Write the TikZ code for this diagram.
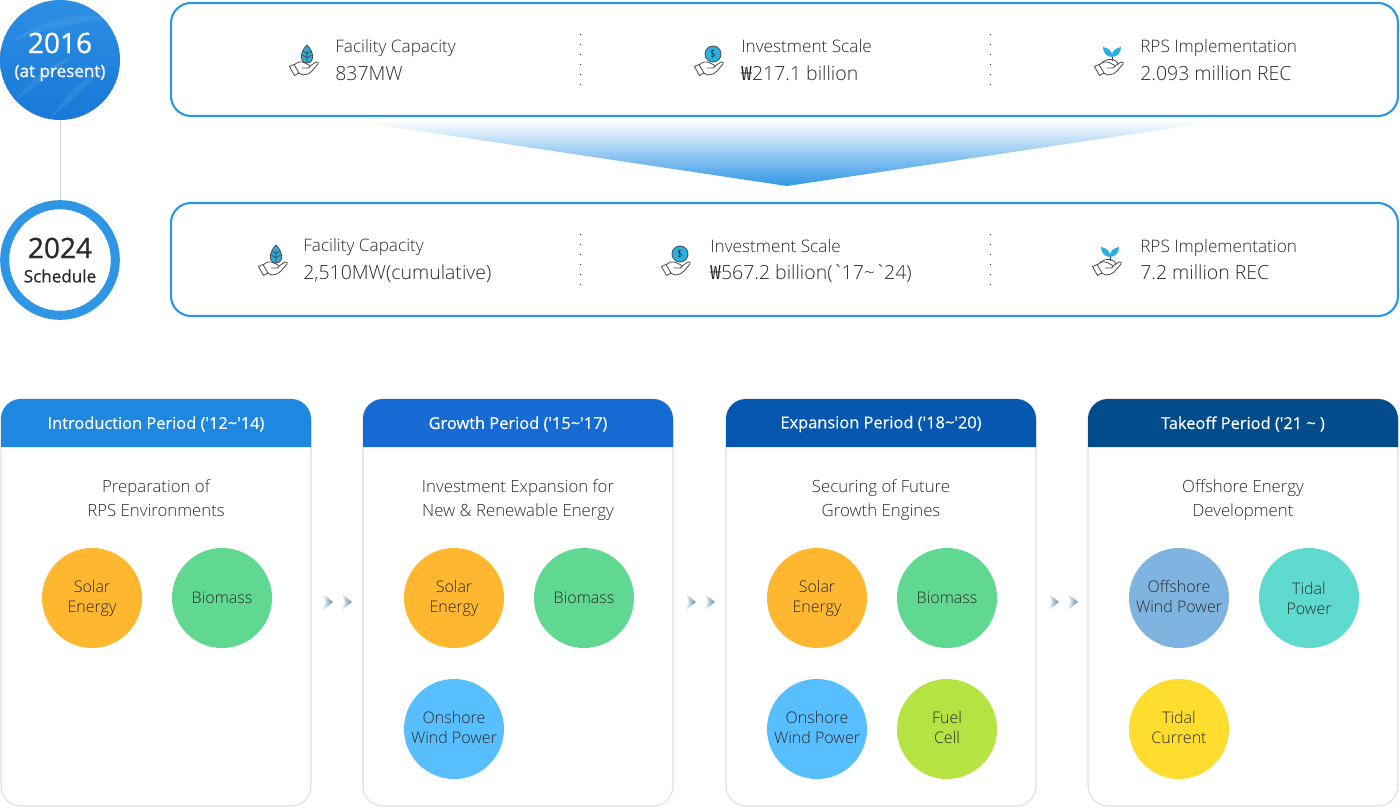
\documentclass[tikz,border=0pt]{standalone}
\usepackage{fontspec}
\usepackage{xcolor}
\usepackage{tikz}
\usetikzlibrary{arrows.meta,shapes.geometric}
\newfontfamily\bodyfont{Open Sans}[UprightFont=* Light]
\newfontfamily\headfont{Open Sans}[FakeBold=0.3]
\newfontfamily\yearfont{Open Sans}[FakeBold=0.9]
\newfontfamily\wonfont{Noto Sans CJK KR}
\definecolor{framecol}{HTML}{2F96E6}
\definecolor{topcol}{HTML}{2C8FE3}
\definecolor{lowcol}{HTML}{1878D8}
\definecolor{chevcol}{HTML}{5B8DB5}
\definecolor{leafcol}{HTML}{2BB0DE}
\definecolor{inkcol}{HTML}{2B2B2B}
\definecolor{solarcol}{HTML}{FEB72F}
\definecolor{biocol}{HTML}{60D892}
\definecolor{windcol}{HTML}{57BEFF}
\definecolor{fuelcol}{HTML}{B4E342}
\definecolor{offcol}{HTML}{7FB4E0}
\definecolor{tidalcol}{HTML}{5FDACF}
\definecolor{currentcol}{HTML}{FFDD2F}
\tikzset{
  handline/.style={draw=inkcol!85, line width=0.6pt, line join=round},
  hand/.pic={
    \draw[handline, fill=white] (0.5,6.5) -- (5,4.5) -- (10,13) -- (5.5,15.5) -- cycle;
    \draw[handline] (5,5) .. controls (9,1.5) and (12,1) .. (16,3) -- (20,5) .. controls (22,6) and (21,8) .. (19,8) -- (13,8);
    \draw[handline] (21,6) -- (27,2) .. controls (29,1.5) and (30,3) .. (29,4) -- (23,11) .. controls (20,14) and (17,15) .. (14,15) -- (9.5,13);
  },
  leafhand/.pic={
    \draw[handline, fill=leafcol] (18,-15) .. controls (26,-7) and (25,3) .. (18,3) .. controls (11,3) and (10,-7) .. (18,-15) -- cycle;
    \draw[handline] (18,-10) -- (18,3) (18,-6) -- (14,-9) (18,-6) -- (22,-9) (18,-2) -- (13.5,-5) (18,-2) -- (22.5,-5);
    \pic {hand};
  },
  coinhand/.pic={
    \node[circle, handline, fill=leafcol, minimum size=12pt, inner sep=0pt, font=\fontsize{7.5pt}{8pt}\bodyfont] (coin) at (19,-6) {\$};
    \pic {hand};
  },
  sprouthand/.pic={
    \draw[handline] (18,1) -- (18,-4);
    \fill[leafcol] (18,-3) .. controls (12,-3) and (9,-8) .. (9,-13) .. controls (14,-12) and (19,-9) .. (18,-3) -- cycle;
    \fill[leafcol] (18,-3) .. controls (24,-3) and (27,-8) .. (27,-13) .. controls (22,-12) and (17,-9) .. (18,-3) -- cycle;
    \draw[handline] (8,3) .. controls (11,-2) and (24,-2) .. (24,5);
    \pic {hand};
  },
  chevrons/.pic={
    \shade[left color=white, right color=chevcol] (0,-9) -- (11,0) -- (0,9) -- (4,0) -- cycle;
    \shade[left color=white, right color=chevcol] (19,-9) -- (30,0) -- (19,9) -- (23,0) -- cycle;
  }
}
\begin{document}
\begin{tikzpicture}[x=0.75pt, y=-0.75pt,
    databox/.style={draw=framecol, line width=1.6pt, rounded corners=15pt},
    cardbox/.style={draw=black!13, line width=0.8pt, rounded corners=15pt},
    sepdots/.style={inkcol, line width=0.6pt, dash pattern=on 0.6pt off 6.9pt},
    itemhead/.style={anchor=base west, inner sep=0pt, text=inkcol, font=\fontsize{12.9pt}{15pt}\bodyfont},
    itemval/.style={anchor=base west, inner sep=0pt, text=inkcol, font=\fontsize{14.6pt}{18pt}\bodyfont},
    cardhead/.style={text=white, inner sep=0pt, font=\fontsize{12.3pt}{15pt}\headfont},
    cardtitle/.style={align=center, inner sep=0pt, text=inkcol, font=\fontsize{12.6pt}{18pt}\bodyfont},
    energy/.style={circle, minimum size=75pt, inner sep=0pt, align=center, text=inkcol, font=\fontsize{12pt}{15pt}\bodyfont}]
  \useasboundingbox (0,0) rectangle (1400,810);

  % Year badges
  \node[circle, minimum size=90pt, inner sep=0pt, top color=topcol, bottom color=lowcol] (now) at (60,60) {};
  \begin{scope}
    \clip (60,60) circle [radius=60];
    \fill[white, opacity=0.07] (10,42) .. controls (50,15) and (80,12) .. (112,18) .. controls (80,22) and (50,28) .. (10,42) -- cycle;
    \fill[white, opacity=0.07] (15,100) .. controls (35,75) and (50,65) .. (75,55) .. controls (55,70) and (40,85) .. (15,100) -- cycle;
    \fill[white, opacity=0.07] (50,118) .. controls (65,95) and (85,75) .. (112,62) .. controls (90,80) and (75,100) .. (50,118) -- cycle;
  \end{scope}
  \node[text=white, inner sep=0pt, font=\fontsize{21pt}{24pt}\yearfont] (nowyear) at (60,43) {2016};
  \node[text=white, inner sep=0pt, font=\fontsize{12.8pt}{15pt}\yearfont] (nowtag) at (60,73) {(at present)};
  \node[circle, minimum size=83pt, inner sep=0pt, draw=framecol, fill=white, line width=6.8pt] (plan) at (60,260) {};
  \node[text=inkcol, inner sep=0pt, font=\fontsize{21pt}{24pt}\yearfont] (planyear) at (60,248) {2024};
  \node[text=inkcol, inner sep=0pt, font=\fontsize{12.8pt}{15pt}\yearfont] (plantag) at (60,276) {Schedule};
  \draw[black!15, line width=0.7pt] (now) -- (plan);

  % Figures, 2016
  \draw[databox, fill=white] (171,3) rectangle (1398,116);
  \draw[sepdots] (580,34) -- (580,86);
  \draw[sepdots] (990,34) -- (990,86);
  \pic at (289,60) {leafhand};
  \node[itemhead] (nowcap) at (335,52) {Facility Capacity};
  \node[itemval] (nowcapval) at (335,80) {837MW};
  \pic at (694,60) {coinhand};
  \node[itemhead] (nowinv) at (741,52) {Investment Scale};
  \node[itemval] (nowinvval) at (741,80) {{\wonfont ₩}217.1 billion};
  \pic at (1094,60) {sprouthand};
  \node[itemhead] (nowrps) at (1140,52) {RPS Implementation};
  \node[itemval] (nowrpsval) at (1140,80) {2.093 million REC};

  % Funnel between the boxes
  \shade[top color=white, bottom color=framecol] (346,120) -- (1226,120) -- (787,186) -- cycle;

  % Figures, 2024
  \draw[databox, fill=white] (171,203) rectangle (1398,316);
  \draw[sepdots] (580,234) -- (580,286);
  \draw[sepdots] (990,234) -- (990,286);
  \pic at (258,260) {leafhand};
  \node[itemhead] (plancap) at (303,251) {Facility Capacity};
  \node[itemval] (plancapval) at (303,279) {2,510MW(cumulative)};
  \pic at (661,260) {coinhand};
  \node[itemhead] (planinv) at (710,252) {Investment Scale};
  \node[itemval] (planinvval) at (710,279) {{\wonfont ₩}567.2 billion(`\kern-1.6pt 17\textasciitilde`\kern-1.6pt 24)};
  \pic at (1092,260) {sprouthand};
  \node[itemhead] (planrps) at (1140,252) {RPS Implementation};
  \node[itemval] (planrpsval) at (1140,279) {7.2 million REC};

  % Card 1
  \draw[cardbox] (1,399) rectangle (311,806);
  \fill[rounded corners=15pt, color={rgb,255:red,30;green,136;blue,224}] (1,447) -- (1,399) -- (311,399) -- (311,447);
  \node[cardhead] (introhead) at (156,424) {Introduction Period ('12\textasciitilde'14)};
  \node[cardtitle] (introtitle) at (156,500) {Preparation of\\RPS Environments\vphantom{g}};
  \node[energy, fill=solarcol] (introsolar) at (92,598) {Solar\\Energy};
  \node[energy, fill=biocol] (introbio) at (222,598) {Biomass};
  \pic at (322,602) {chevrons};

  % Card 2
  \draw[cardbox] (363,399) rectangle (673,806);
  \fill[rounded corners=15pt, color={rgb,255:red,21;green,107;blue,211}] (363,447) -- (363,399) -- (673,399) -- (673,447);
  \node[cardhead] (growhead) at (518,424) {Growth Period ('15\textasciitilde'17)};
  \node[cardtitle] (growtitle) at (518,500) {Investment Expansion for\\New \& Renewable Energy};
  \node[energy, fill=solarcol] (growsolar) at (454,598) {Solar\\Energy};
  \node[energy, fill=biocol] (growbio) at (584,598) {Biomass};
  \node[energy, fill=windcol] (growwind) at (454,729) {Onshore\\Wind Power\vphantom{g}};
  \pic at (685,602) {chevrons};

  % Card 3
  \draw[cardbox] (726,399) rectangle (1036,806);
  \fill[rounded corners=15pt, color={rgb,255:red,5;green,87;blue,175}] (726,447) -- (726,399) -- (1036,399) -- (1036,447);
  \node[cardhead] (expandhead) at (881,424) {Expansion Period ('18\textasciitilde'20)};
  \node[cardtitle] (expandtitle) at (881,500) {Securing of Future\\Growth Engines};
  \node[energy, fill=solarcol] (expandsolar) at (817,598) {Solar\\Energy};
  \node[energy, fill=biocol] (expandbio) at (947,598) {Biomass};
  \node[energy, fill=windcol] (expandwind) at (817,729) {Onshore\\Wind Power\vphantom{g}};
  \node[energy, fill=fuelcol] (expandfuel) at (947,729) {Fuel\\Cell\vphantom{g}};
  \pic at (1048,602) {chevrons};

  % Card 4
  \draw[cardbox] (1088,399) rectangle (1398,806);
  \fill[rounded corners=15pt, color={rgb,255:red,2;green,76;blue,140}] (1088,447) -- (1088,399) -- (1398,399) -- (1398,447);
  \node[cardhead] (takehead) at (1243,424) {Takeoff Period ('21 \textasciitilde\ )};
  \node[cardtitle] (taketitle) at (1243,500) {Offshore Energy\\Development};
  \node[energy, fill=offcol] (takewind) at (1179,598) {Offshore\\Wind Power\vphantom{g}};
  \node[energy, fill=tidalcol] (taketidal) at (1309,598) {Tidal\\Power};
  \node[energy, fill=currentcol] (takecurrent) at (1179,729) {Tidal\\Current\vphantom{g}};
\end{tikzpicture}
\end{document}
